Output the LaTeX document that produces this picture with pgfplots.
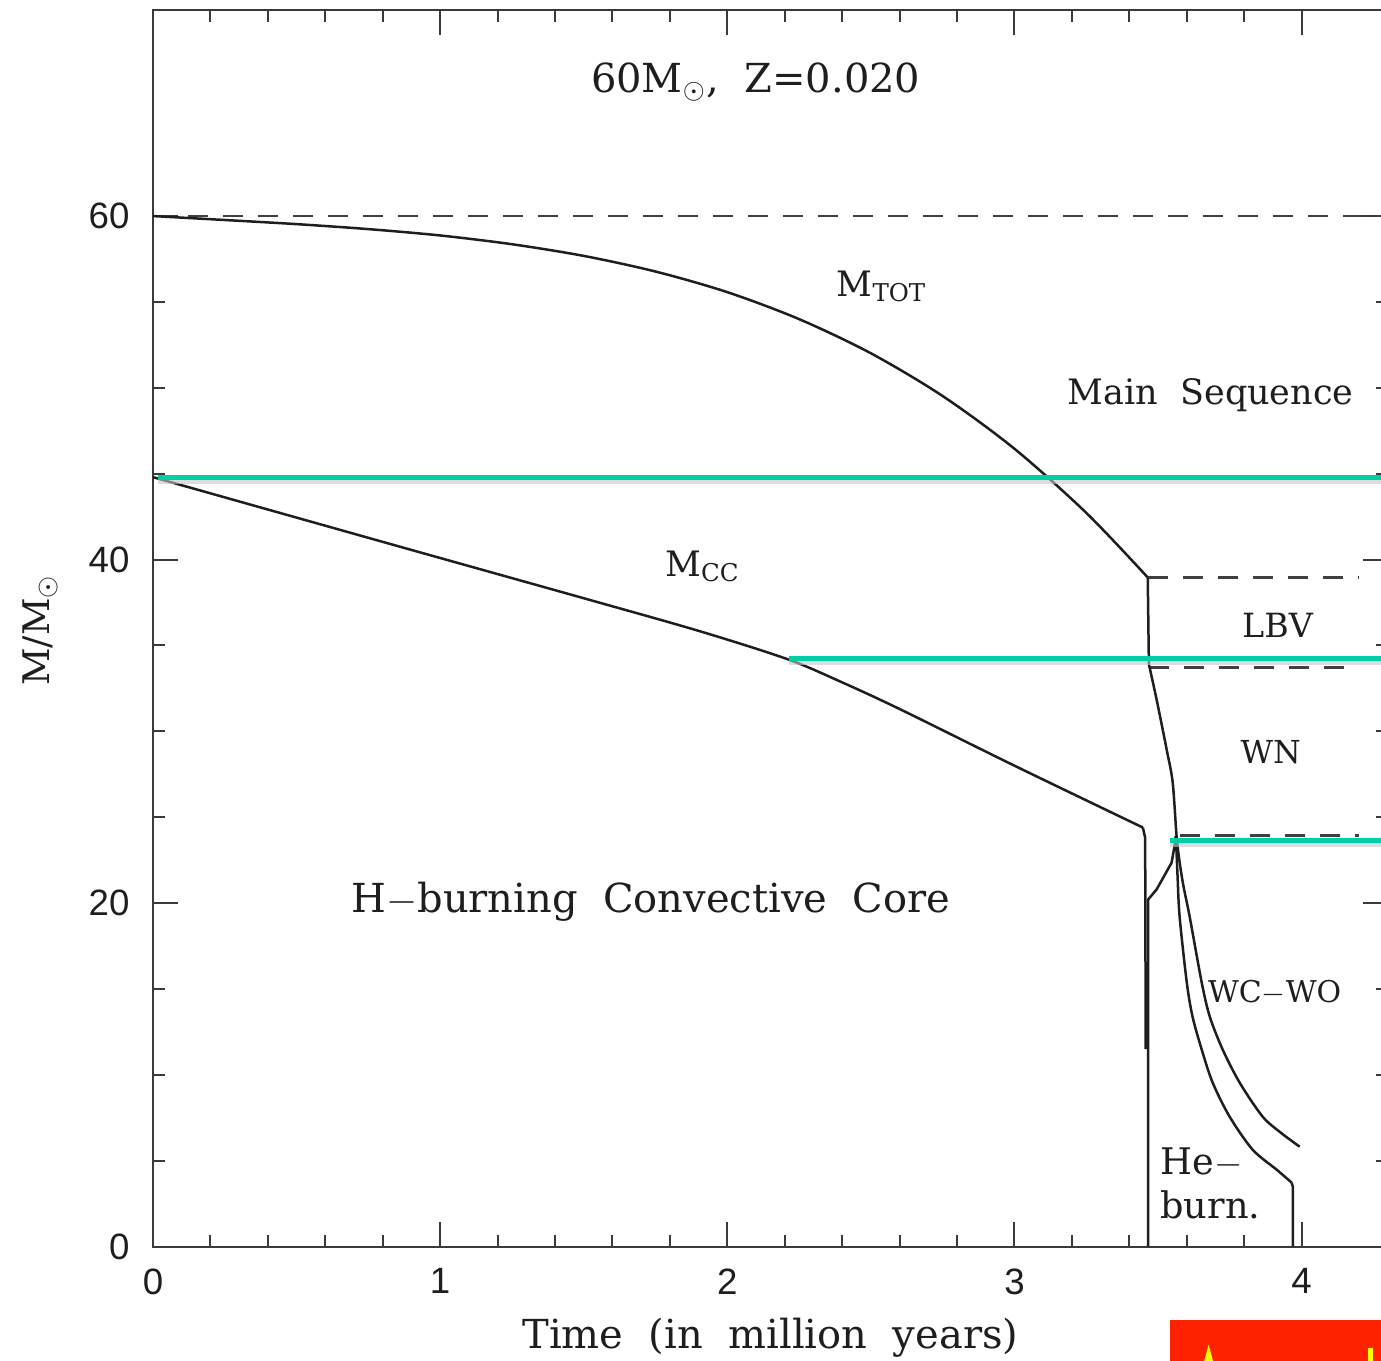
\documentclass[border=0pt]{standalone}
\usepackage{fontspec}
\setmainfont{DejaVu Serif}
\newfontfamily\numfont{Liberation Sans}
\usepackage{pgfplots}
\pgfplotsset{compat=1.18}

\definecolor{ink}{HTML}{1E1E1E}
\definecolor{frame}{HTML}{3A3A3A}
\definecolor{phase}{RGB}{0,206,165}
\definecolor{banner}{HTML}{FF2200}
\definecolor{flag}{HTML}{FFFF00}

\begin{document}
\begin{tikzpicture}
\begin{axis}[
  scale only axis,
  width=370.55pt, height=371.1pt,
  xmin=0, xmax=4.3, ymin=0, ymax=72,
  clip=false,
  axis line style={line width=0.6pt, color=frame},
  tick style={line width=0.6pt, color=frame},
  tick align=inside,
  major tick length=7.5pt, minor tick length=3.6pt,
  xtick={0,1,2,3,4}, ytick={0,20,40,60},
  minor x tick num=4, minor y tick num=3,
  ticklabel style={font=\numfont\fontsize{11}{13}\selectfont, text=ink},
  /pgf/number format/assume math mode=true,
  xticklabel style={yshift=-3pt},
  yticklabel style={xshift=-3.5pt},
  xlabel={Time\ \ (in\ \ million\ \ years)},
  xlabel style={font=\fontsize{12}{14}\selectfont, text=ink, at={(axis description cs:0.5,-0.0736)}, anchor=center},
  ylabel={M/M$_{\odot}$},
  ylabel style={font=\fontsize{11}{13}\selectfont, text=ink, at={(axis description cs:-0.0914,0.4986)}, anchor=center},
]

% reference mass levels of each phase (dashed)
\addplot[black!75, line width=0.8pt, dash pattern=on 6pt off 4.5pt] coordinates {(0,60) (4.3,60)};
\addplot[black!75, line width=0.8pt, dash pattern=on 6pt off 4.5pt] coordinates {(3.465,38.94) (4.20,38.94)};
\addplot[black!75, line width=0.8pt, dash pattern=on 6pt off 4.5pt] coordinates {(3.47,33.7) (4.20,33.7)};
\addplot[black!75, line width=0.8pt, dash pattern=on 6pt off 4.5pt] coordinates {(3.575,23.95) (4.20,23.95)};

% total mass, main sequence
\addplot[ink, line width=0.75pt, smooth, tension=0.5] coordinates {
  (0,60.0) (0.25,59.77) (0.5,59.53) (0.75,59.24) (1.0,58.87) (1.25,58.36)
  (1.5,57.68) (1.75,56.77) (2.0,55.57) (2.25,54.0) (2.5,52.01)
  (2.75,49.52) (3.0,46.45) (3.25,42.72) (3.464,38.96)};
% total mass, LBV eruption
\addplot[ink, line width=0.75pt] coordinates {(3.464,38.96) (3.468,33.9)};
% total mass, WR phases
\addplot[ink, line width=0.75pt, smooth, tension=0.5] coordinates {
  (3.468,33.9) (3.495,31.84) (3.530,28.93) (3.551,27.0)
  (3.566,23.6) (3.585,21.3) (3.610,19.21) (3.652,15.37) (3.680,13.39)
  (3.725,11.47) (3.784,9.55) (3.864,7.57) (3.93,6.6) (3.993,5.82)};

% convective core, H burning
\addplot[ink, line width=0.75pt, smooth, tension=0.5] coordinates {
  (0,44.8) (0.86,40.75) (1.5,37.75) (1.9,35.85) (2.21,34.2) (2.4,32.85)
  (2.6,31.3) (3.0,28.0) (3.447,24.4)};
\addplot[ink, line width=0.75pt] coordinates {(3.447,24.4) (3.455,23.8) (3.457,11.5)};

% convective core, He burning
\addplot[ink, line width=0.75pt] coordinates {
  (3.465,0) (3.465,20.2) (3.495,20.8) (3.547,22.35) (3.556,23.2) (3.562,23.9)};
\addplot[ink, line width=0.75pt, smooth, tension=0.5] coordinates {
  (3.562,23.9) (3.568,21.5) (3.575,19.21) (3.600,15.37) (3.620,13.39) (3.652,11.47)
  (3.690,9.55) (3.749,7.57) (3.829,5.65) (3.913,4.48) (3.965,3.73)};
\addplot[ink, line width=0.75pt] coordinates {(3.965,3.73) (3.969,3.5) (3.969,0)};

% highlighted phase boundaries
\addplot[gray!45, line width=1.4pt, opacity=0.6] coordinates {(0.017,44.55) (4.3,44.55)};
\addplot[gray!45, line width=1.4pt, opacity=0.6] coordinates {(2.214,33.98) (4.3,33.98)};
\addplot[gray!45, line width=1.4pt, opacity=0.6] coordinates {(3.540,23.38) (4.3,23.38)};
\addplot[phase, line width=1.5pt] coordinates {(0.017,44.8) (4.3,44.8)};
\addplot[phase, line width=1.5pt] coordinates {(2.214,34.23) (4.3,34.23)};
\addplot[phase, line width=1.5pt] coordinates {(3.540,23.63) (4.3,23.63)};

% annotations
\node[text=ink, font=\fontsize{12}{14}\selectfont] at (axis cs:2.099,67.8) {60M$_{\odot}$,\ \ Z=0.020};
\node[text=ink, font=\fontsize{10.5}{13}\selectfont] at (axis cs:2.538,55.9) {M$_{\mathrm{TOT}}$};
\node[text=ink, font=\fontsize{10.5}{13}\selectfont] at (axis cs:1.915,39.6) {M$_{\mathrm{CC}}$};
\node[text=ink, font=\fontsize{10.5}{12}\selectfont] at (axis cs:3.683,49.6) {Main\ \ Sequence};
\node[text=ink, font=\fontsize{10}{12}\selectfont] at (axis cs:3.916,36.2) {LBV};
\node[text=ink, font=\fontsize{9.5}{12}\selectfont] at (axis cs:3.892,28.8) {WN};
\node[text=ink, font=\fontsize{9}{12}\selectfont] at (axis cs:3.906,14.8) {WC$-$WO};
\node[text=ink, font=\fontsize{11}{13}\selectfont, anchor=west, inner sep=0pt] at (axis cs:3.506,4.89) {He$-$};
\node[text=ink, font=\fontsize{11}{13}\selectfont, anchor=west, inner sep=0pt] at (axis cs:3.506,2.44) {burn.};
\node[text=ink, font=\fontsize{12}{14}\selectfont] at (axis cs:1.734,20.08) {H$-$burning\ \ Convective\ \ Core};

% banner strip at the lower right corner
\fill[banner] (axis cs:3.540,-4.25) rectangle (axis cs:4.35,-7.2);
\fill[flag] (axis cs:3.676,-5.70) -- (axis cs:3.700,-7.2) -- (axis cs:3.652,-7.2) -- cycle;
\fill[flag] (axis cs:4.230,-5.88) rectangle (axis cs:4.247,-7.2);

\coordinate (cropBL) at (axis cs:-0.5326,-6.636);
\coordinate (cropTR) at (axis cs:4.2762,72.58);
\end{axis}
\pgfresetboundingbox
\path (cropBL) rectangle (cropTR);
\end{tikzpicture}
\end{document}
